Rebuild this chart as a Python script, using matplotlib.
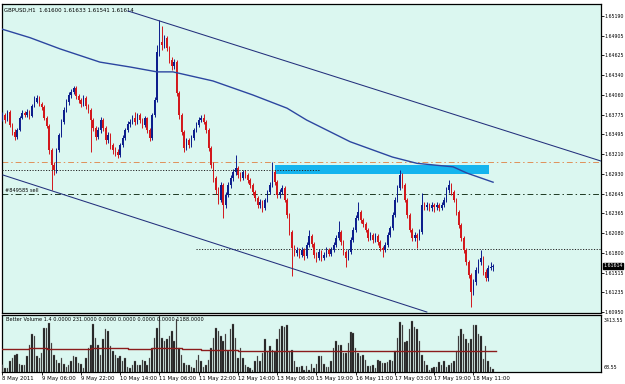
import matplotlib
matplotlib.use("Agg")
import matplotlib.pyplot as plt
from matplotlib.patches import Rectangle
import numpy as np

# ---------------- data ----------------
first_open = 1.6372
closes = [
    1.6377, 1.6370, 1.6382, 1.6363, 1.6353, 1.6346, 1.6356, 1.6373, 1.6380, 1.6377,
    1.6382, 1.6376, 1.6390, 1.6396, 1.6402, 1.6393, 1.6389, 1.6373, 1.6362, 1.6327,
    1.6306, 1.6298, 1.6327, 1.6349, 1.6367, 1.6384, 1.6396, 1.6406, 1.6410, 1.6416,
    1.6404, 1.6399, 1.6393, 1.6402, 1.6390, 1.6384, 1.6370, 1.6359, 1.6346, 1.6356,
    1.6370, 1.6359, 1.6341, 1.6349, 1.6334, 1.6327, 1.6324, 1.6320, 1.6334, 1.6344,
    1.6356, 1.6364, 1.6367, 1.6373, 1.6367, 1.6377, 1.6370, 1.6363, 1.6373, 1.6356,
    1.6344, 1.6377, 1.6399, 1.6467, 1.6482, 1.6477, 1.6487, 1.6473, 1.6456, 1.6447,
    1.6453, 1.6409, 1.6377, 1.6353, 1.6330, 1.6341, 1.6334, 1.6344, 1.6356, 1.6363,
    1.6370, 1.6373, 1.6367, 1.6356, 1.6330, 1.6306, 1.6287, 1.6270, 1.6256, 1.6277,
    1.6248, 1.6263, 1.6277, 1.6287, 1.6296, 1.6301, 1.6291, 1.6287, 1.6296, 1.6291,
    1.6284, 1.6277, 1.6267, 1.6258, 1.6248, 1.6253, 1.6244, 1.6256, 1.6267, 1.6277,
    1.6296, 1.6281, 1.6263, 1.6267, 1.6273, 1.6256, 1.6234, 1.6210, 1.6187, 1.6180,
    1.6184, 1.6177, 1.6184, 1.6175, 1.6191, 1.6204, 1.6192, 1.6177, 1.6172, 1.6181,
    1.6172, 1.6177, 1.6184, 1.6178, 1.6184, 1.6191, 1.6201, 1.6210, 1.6195, 1.6181,
    1.6172, 1.6181, 1.6198, 1.6213, 1.6230, 1.6238, 1.6227, 1.6221, 1.6213, 1.6201,
    1.6205, 1.6198, 1.6204, 1.6195, 1.6187, 1.6184, 1.6191, 1.6205, 1.6215, 1.6234,
    1.6256, 1.6273, 1.6291, 1.6277, 1.6256, 1.6234, 1.6213, 1.6201, 1.6205, 1.6201,
    1.6210, 1.6248, 1.6245, 1.6248, 1.6244, 1.6248, 1.6245, 1.6248, 1.6244, 1.6248,
    1.6256, 1.6270, 1.6277, 1.6267, 1.6256, 1.6238, 1.6220, 1.6201, 1.6184, 1.6167,
    1.6148, 1.6124, 1.6138, 1.6155, 1.6167, 1.6172, 1.6152, 1.6144, 1.6158, 1.6160,
    1.61614]
highs = [
    1.6381, 1.6380, 1.6385, 1.6384, 1.6366, 1.6357, 1.6359, 1.6376, 1.6384, 1.6383,
    1.6386, 1.6384, 1.6393, 1.6404, 1.6406, 1.6404, 1.6396, 1.6391, 1.6376, 1.6364,
    1.6330, 1.6310, 1.6330, 1.6352, 1.6371, 1.6388, 1.6400, 1.6410, 1.6415, 1.6419,
    1.6419, 1.6407, 1.6402, 1.6406, 1.6404, 1.6393, 1.6387, 1.6373, 1.6362, 1.6360,
    1.6374, 1.6373, 1.6362, 1.6353, 1.6352, 1.6337, 1.6331, 1.6328, 1.6337, 1.6348,
    1.6359, 1.6368, 1.6371, 1.6377, 1.6381, 1.6380, 1.6380, 1.6373, 1.6376, 1.6375,
    1.6359, 1.6380, 1.6403, 1.6478, 1.6513, 1.6505, 1.6492, 1.6490, 1.6476, 1.6460,
    1.6457, 1.6456, 1.6412, 1.6380, 1.6356, 1.6345, 1.6344, 1.6348, 1.6359, 1.6367,
    1.6374, 1.6377, 1.6378, 1.6370, 1.6359, 1.6333, 1.6310, 1.6290, 1.6274, 1.6281,
    1.6280, 1.6267, 1.6281, 1.6291, 1.6300, 1.6320, 1.6304, 1.6295, 1.6299, 1.6299,
    1.6294, 1.6287, 1.6280, 1.6270, 1.6261, 1.6257, 1.6256, 1.6259, 1.6270, 1.6281,
    1.6310, 1.6299, 1.6284, 1.6271, 1.6277, 1.6276, 1.6259, 1.6237, 1.6213, 1.6191,
    1.6188, 1.6187, 1.6188, 1.6187, 1.6195, 1.6213, 1.6207, 1.6195, 1.6181, 1.6185,
    1.6184, 1.6181, 1.6188, 1.6187, 1.6188, 1.6195, 1.6205, 1.6226, 1.6213, 1.6198,
    1.6184, 1.6185, 1.6202, 1.6217, 1.6234, 1.6253, 1.6241, 1.6230, 1.6224, 1.6216,
    1.6209, 1.6208, 1.6208, 1.6207, 1.6198, 1.6190, 1.6195, 1.6209, 1.6219, 1.6238,
    1.6260, 1.6277, 1.6298, 1.6294, 1.6280, 1.6259, 1.6237, 1.6216, 1.6209, 1.6208,
    1.6214, 1.6265, 1.6252, 1.6252, 1.6251, 1.6252, 1.6251, 1.6252, 1.6251, 1.6252,
    1.6260, 1.6274, 1.6284, 1.6280, 1.6270, 1.6259, 1.6241, 1.6223, 1.6204, 1.6187,
    1.6170, 1.6151, 1.6142, 1.6159, 1.6171, 1.6184, 1.6175, 1.6156, 1.6162, 1.6167,
    1.61633]
lows = [
    1.6369, 1.6366, 1.6368, 1.6360, 1.6349, 1.6341, 1.6343, 1.6354, 1.6371, 1.6374,
    1.6375, 1.6372, 1.6374, 1.6388, 1.6394, 1.6390, 1.6385, 1.6370, 1.6358, 1.6322,
    1.6270, 1.6292, 1.6294, 1.6324, 1.6346, 1.6364, 1.6381, 1.6392, 1.6402, 1.6407,
    1.6400, 1.6395, 1.6389, 1.6390, 1.6386, 1.6380, 1.6324, 1.6355, 1.6341, 1.6343,
    1.6352, 1.6355, 1.6336, 1.6337, 1.6329, 1.6322, 1.6319, 1.6316, 1.6317, 1.6331,
    1.6341, 1.6353, 1.6360, 1.6364, 1.6363, 1.6364, 1.6366, 1.6359, 1.6360, 1.6352,
    1.6340, 1.6341, 1.6374, 1.6396, 1.6462, 1.6470, 1.6473, 1.6469, 1.6451, 1.6442,
    1.6443, 1.6405, 1.6372, 1.6348, 1.6324, 1.6327, 1.6330, 1.6331, 1.6341, 1.6353,
    1.6360, 1.6367, 1.6364, 1.6352, 1.6326, 1.6301, 1.6282, 1.6264, 1.6250, 1.6252,
    1.6230, 1.6244, 1.6260, 1.6273, 1.6283, 1.6292, 1.6287, 1.6283, 1.6284, 1.6287,
    1.6280, 1.6273, 1.6263, 1.6254, 1.6244, 1.6244, 1.6238, 1.6241, 1.6253, 1.6264,
    1.6274, 1.6277, 1.6259, 1.6259, 1.6264, 1.6252, 1.6230, 1.6206, 1.6146, 1.6176,
    1.6176, 1.6173, 1.6174, 1.6170, 1.6172, 1.6188, 1.6188, 1.6173, 1.6167, 1.6169,
    1.6168, 1.6169, 1.6174, 1.6175, 1.6175, 1.6181, 1.6188, 1.6198, 1.6191, 1.6177,
    1.6160, 1.6169, 1.6178, 1.6195, 1.6210, 1.6227, 1.6223, 1.6217, 1.6209, 1.6197,
    1.6198, 1.6194, 1.6195, 1.6191, 1.6183, 1.6174, 1.6181, 1.6188, 1.6202, 1.6212,
    1.6231, 1.6253, 1.6270, 1.6273, 1.6252, 1.6230, 1.6209, 1.6197, 1.6197, 1.6187,
    1.6198, 1.6207, 1.6241, 1.6241, 1.6240, 1.6240, 1.6238, 1.6241, 1.6240, 1.6241,
    1.6245, 1.6253, 1.6266, 1.6263, 1.6252, 1.6234, 1.6216, 1.6197, 1.6180, 1.6163,
    1.6144, 1.6102, 1.6120, 1.6134, 1.6151, 1.6163, 1.6148, 1.6140, 1.6140, 1.6155,
    1.61541]
volumes = [
    486, 327, 327, 685, 885, 1083, 1125, 527, 486, 486,
    985, 1680, 2277, 2177, 985, 885, 1183, 2675, 2675, 2915,
    1780, 1083, 785, 587, 885, 527, 385, 486, 685, 985,
    920, 587, 527, 287, 885, 1480, 1680, 2874, 2080, 1680,
    1083, 1980, 2575, 2475, 1580, 1280, 1083, 885, 985, 685,
    885, 385, 327, 486, 685, 486, 486, 785, 685, 486,
    885, 1480, 2080, 2675, 3370, 2080, 1880, 1980, 2177, 2475,
    1880, 3170, 1480, 1083, 587, 486, 486, 385, 327, 785,
    1083, 685, 385, 486, 785, 1480, 2080, 2675, 2475, 2177,
    1880, 2277, 1280, 2575, 2874, 2080, 885, 1480, 885, 486,
    385, 287, 190, 685, 985, 685, 1180, 1980, 1280, 1580,
    1380, 1280, 1980, 2575, 2775, 2735, 2815, 1280, 1340, 685,
    385, 385,
    427, 188, 427, 188, 546, 288, 546, 1024, 985, 546,
    348, 387, 685, 1480, 1880, 1680, 1680, 1183, 1183, 1780,
    2416, 2377, 1480, 1183, 985, 1083, 785, 427, 427, 486,
    288, 785, 685, 587, 587, 627, 785, 685, 1280, 2080,
    2975, 2815, 1820, 1880, 2575, 3035, 2716, 2575, 1880, 1083,
    685, 486, 188, 288, 348, 387, 627, 486, 685, 348,
    486, 587, 685, 1280, 2177, 2616, 2277, 1980, 1780, 2020,
    2815, 2815, 2277, 2177, 825, 1580, 685, 348, 228]

# volume average (stepped line): start bar and level
vol_ma_start = [0, 11, 18, 36, 51, 61, 73, 81, 96, 122, 161, 176, 201]
vol_ma_level = [1423, 1483, 1423, 1483, 1423, 1483, 1423, 1382, 1322, 1292, 1322, 1292, 1292]

# moving average (blue curve) sampled points
ma_bars = [0, 11.2, 23.4, 39.7, 52, 63, 69.5, 85.8, 102, 116, 124, 141.7, 159, 169, 183.7, 189.4, 200]
ma_prices = [1.6500, 1.6488, 1.6472, 1.6453, 1.6446, 1.6439, 1.6439, 1.6426, 1.6406,
             1.6387, 1.6370, 1.6339, 1.6317, 1.6308, 1.6303, 1.6294, 1.6281]

# trend channel lines
upper_bars = [51.2, 244]
upper_prices = [1.65262, 1.63113]
lower_bars = [0.2, 173]
lower_prices = [1.62913, 1.60951]

# horizontal levels
level_orange = 1.6310
level_dotted_top = 1.6299
level_sell = 1.6264
level_dotted_low = 1.6185
zone_bars = [111, 198.3]
zone_prices = [1.6293, 1.6306]

price_ticks = [1.65190, 1.64905, 1.64625, 1.64340, 1.64060, 1.63775, 1.63495, 1.63210,
               1.62930, 1.62645, 1.62365, 1.62080, 1.61800, 1.61515, 1.61235, 1.60950]
time_ticks = [0, 16, 32, 48, 64, 80, 96, 112, 128, 144, 160, 176, 192]
time_labels = ["8 May 2011", "9 May 06:00", "9 May 22:00", "10 May 14:00", "11 May 06:00",
               "11 May 22:00", "12 May 14:00", "13 May 06:00", "15 May 19:00", "16 May 11:00",
               "17 May 03:00", "17 May 19:00", "18 May 11:00"]
last_price = 1.61614
vol_max = 3413.55
vol_min = 68.55

# ---------------- drawing ----------------
BG = "#dbf7f0"
UP = "#0d1e8c"
DN = "#d2181c"
FS = 3.9
FSR = 3.45
plt.rcParams["font.family"] = ["DejaVu Sans"]

fig = plt.figure(figsize=(6.25, 3.84), dpi=100)
fig.patch.set_facecolor("white")
W, H = 625.0, 384.0
ax = fig.add_axes([2 / W, 1 - 313 / H, 599 / W, 309 / H])
axv = fig.add_axes([2 / W, 12 / H, 599 / W, 57 / H])
for a in (ax, axv):
    a.set_facecolor(BG)
    for s in a.spines.values():
        s.set_color("black")
        s.set_linewidth(0.9)

n = len(closes)
x = np.arange(n)
c = np.array(closes)
o = np.array([first_open] + closes[:-1])
hi = np.array(highs)
lo = np.array(lows)
colors = [UP if cc >= oo else DN for oo, cc in zip(o, c)]

ax.vlines(x, lo, hi, colors=colors, linewidth=0.7, zorder=3)
body_bot = np.minimum(o, c)
body_h = np.maximum(np.abs(c - o), 0.00004)
ax.bar(x, body_h, bottom=body_bot, width=0.62, color=colors, linewidth=0, zorder=3)

# zone and levels
ax.add_patch(Rectangle((zone_bars[0], zone_prices[0]), zone_bars[1] - zone_bars[0],
                       zone_prices[1] - zone_prices[0], facecolor="#14b4ee",
                       edgecolor="none", zorder=2))
ax.axhline(level_orange, color="#e0905a", lw=0.7, ls=(0, (6, 3, 1.5, 3)), zorder=2)
ax.hlines(level_dotted_top, -0.2, 129.4, color="#222222", lw=0.7, ls=(0, (1.2, 1.6)), zorder=4)
ax.axhline(level_sell, color="#1e3a22", lw=0.7, ls=(0, (6, 3, 1.5, 3)), zorder=2)
ax.hlines(level_dotted_low, 79, 244, color="#222222", lw=0.7, ls=(0, (1.2, 1.6)), zorder=2)
ax.text(1.2, level_sell + 0.00012, "#849585 sell", fontsize=FS - 0.3, color="black",
        va="bottom", ha="left", zorder=5)

# MA and channel
ax.plot(ma_bars, ma_prices, color="#2c46a0", lw=1.0, zorder=4)
ax.plot(upper_bars, upper_prices, color="#23307c", lw=0.75, zorder=4)
ax.plot(lower_bars, lower_prices, color="#23307c", lw=0.75, zorder=4)

ax.set_xlim(-0.2, 244)
ax.set_ylim(1.60937, 1.65362)
ax.yaxis.tick_right()
ax.set_yticks(price_ticks)
ax.set_yticklabels(["%.5f" % t for t in price_ticks])
ax.tick_params(axis="y", labelsize=FSR, length=2, width=0.6, pad=0.8, colors="black")
ax.set_xticks([])

ax.annotate("%.5f" % last_price, xy=(1.0, last_price), xycoords=("axes fraction", "data"),
            xytext=(1.6, 0), textcoords="offset points", fontsize=FSR, color="white",
            va="center", ha="left",
            bbox=dict(boxstyle="square,pad=0.12", fc="black", ec="black"), zorder=10,
            annotation_clip=False)

ax.text(0.004, 0.988, "GBPUSD,H1  1.61600 1.61633 1.61541 1.61614", transform=ax.transAxes,
        fontsize=FS, va="top", ha="left", color="black")

# volume panel
axv.bar(x, volumes, width=0.62, color="#151515", edgecolor="#8a8a8a", linewidth=0.25, zorder=3)
axv.step(vol_ma_start, vol_ma_level, where="post", color="#8b1c1c", lw=1.0, zorder=4)
axv.set_xlim(-0.2, 244)
axv.set_ylim(vol_min, vol_max)
axv.set_yticks([])
axv.set_xticks(time_ticks)
axv.set_xticklabels(time_labels, ha="left")
axv.tick_params(axis="x", labelsize=FS, length=2, width=0.6, pad=1, colors="black")
axv.text(0.006, 0.96, "Better Volume 1.4 0.0000 231.0000 0.0000 0.0000 0.0000 0.0000 1188.0000",
         transform=axv.transAxes, fontsize=FS - 0.3, va="top", ha="left", color="black")
axv.text(1.004, 0.94, "%.2f" % vol_max, transform=axv.transAxes, fontsize=FSR, va="top", ha="left")
axv.text(1.004, 0.03, "%.2f" % vol_min, transform=axv.transAxes, fontsize=FSR, va="bottom", ha="left")

fig.savefig("out.png", dpi=100, facecolor=fig.get_facecolor())
